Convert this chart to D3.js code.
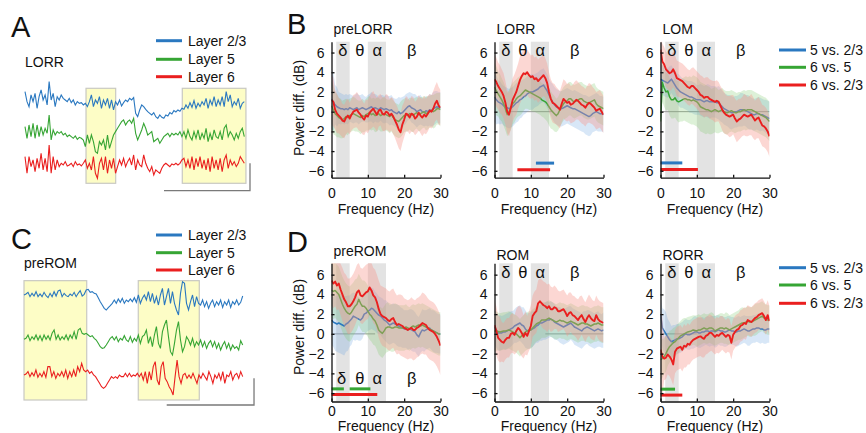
<!DOCTYPE html>
<html><head><meta charset="utf-8">
<script src="https://cdn.jsdelivr.net/npm/d3@7"></script>
<style>body{margin:0;background:#fff}svg{display:block}text{font-family:"Liberation Sans",Arial,sans-serif;fill:#111}</style>
</head><body><svg id="c" width="866" height="433"></svg>
<script>
// ---------------- DATA ----------------
const layers = ["Layer 2/3","Layer 5","Layer 6"];
const comparisons = ["5 vs. 2/3","6 vs. 5","6 vs. 2/3"];
const bandNames = ["δ","θ","α","β"];
const bandCenters = [3.1, 7.8, 12.6, 22.1];
const greyBands = [[1.3,5],[10,15]];
const freqTicks = [0,10,20,30];
const dbTicks = [-6,-4,-2,0,2,4,6];

// LFP traces (panel A: LORR), arbitrary units, uniform sampling over 4 s
const A_L23 = [25,-5,-20,15,-5,20,-25,10,30,0,15,-15,55,0,20,-20,10,0,15,5,0,-5,5,-8,0,-15,-5,-10,-8,-15,-10,-20,-5,15,-20,0,-10,10,-25,0,-15,5,-25,0,-30,-5,-15,0,-18,-8,0,-5,5,0,7,-40,-50,-30,-15,-20,-28,-35,-40,-45,-38,-50,-55,-45,-52,-55,-45,-48,-38,-42,-32,-36,-30,-34,-25,-28,-15,-25,-8,-22,-2,-25,-10,-20,-5,-15,5,-25,0,-15,10,-20,0,-15,10,-20,25,-5,15,-20,-5,-15,5,-25,-10,-5];
const A_L5 = [20,-15,25,-10,30,-15,25,-10,20,-5,15,0,55,-20,10,-5,5,0,5,-5,0,-10,-5,-10,-15,-8,-18,-12,-15,-20,-40,-5,-30,-5,-25,-55,-60,-25,-35,-20,-50,-5,-45,-25,-5,5,15,25,35,40,25,35,40,30,45,0,-20,-5,10,30,15,-5,0,5,-25,-20,-15,-30,-20,-10,-5,0,-10,0,-5,0,-5,5,-10,5,-15,10,-10,-20,5,-15,10,-20,0,-15,15,-25,0,-20,10,-10,-15,5,-20,15,25,-10,5,-5,-20,0,-15,5,15,-10];
const A_L6 = [20,-30,20,-10,10,-25,15,-15,30,-20,15,-25,55,-30,20,-20,10,-10,0,-5,5,-8,-5,0,-10,5,-5,-2,-8,0,10,-15,0,-20,20,-30,-45,0,15,-20,20,-30,10,-15,15,-30,-10,10,-5,15,-10,5,15,-5,25,-20,10,-5,-10,25,0,-15,-25,-10,-35,-20,-25,-30,-15,-5,0,-5,-10,-2,-5,0,-5,0,10,15,-10,10,-15,20,-20,15,-10,20,-15,10,-20,15,-25,20,-15,10,-20,15,-25,10,25,-15,10,-5,5,-10,0,20,10,0];
const A_windows = [[1.113,1.654],[2.869,4.03]];
// panel C: preROM
const C_L23 = [0,3,8,-5,5,-3,10,-5,3,-5,8,-2,-8,5,-5,10,-3,12,15,-5,5,-2,-5,3,-2,8,-5,5,13,-3,2,15,17,8,10,5,3,-8,-20,-30,-40,-45,-38,-32,-25,-15,-25,-12,-22,-10,-25,-15,-20,-12,-20,-8,-22,0,-25,-10,0,-15,10,-20,5,-25,-5,-30,0,20,-30,-5,20,-25,10,-25,-45,-60,5,40,35,-25,-45,-20,0,-35,-5,-25,-30,-15,-35,-20,-40,-25,-15,-35,-20,-30,-15,-37,-20,-30,-15,-37,-20,-28,-15,-30,-22,-3];
const C_L5 = [-3,0,10,-7,5,-3,10,-5,8,-7,10,-3,8,-5,15,25,-3,10,-5,5,-3,10,-5,10,0,20,-3,25,30,15,12,15,10,5,8,0,-5,-15,-25,-30,-28,-20,-10,0,5,-5,5,-10,0,-5,8,-5,-10,5,-12,0,-8,10,-15,5,10,25,-15,5,-25,10,35,-15,-30,20,40,55,5,-40,-50,-15,25,50,-5,-40,-25,5,-5,-20,0,-25,-10,-20,-5,-25,-10,-30,-15,-7,-25,-10,-30,-15,-35,-20,-10,-30,-15,-35,-20,-30,-25,-35,-7,-20];
const C_L6 = [0,3,10,-5,7,-3,15,-7,5,-5,10,-7,25,25,-5,10,-10,5,-3,10,-5,15,-10,10,-5,15,-5,25,10,35,15,10,15,5,10,0,-5,-15,-25,-35,-40,-35,-25,-15,-5,-10,-5,-10,0,-5,-5,5,-5,5,-5,0,-3,5,-5,5,-15,10,-25,10,-15,25,40,-15,-30,25,40,-10,-20,-35,-45,-60,-5,45,-5,-25,0,5,-10,0,-10,5,-10,-25,0,-10,5,-5,-15,10,-5,-25,0,-10,5,-15,10,-25,0,-5,10,-15,0,5,-10,10,-5];
const C_windows = [[0.0,1.147],[2.09,3.206]];

// Power difference spectra (dB), 0–30 Hz every 0.5 Hz; CI half-widths every 1 Hz
const preLORR_5v23 = [1.3,1.0,0.7,0.5,0.4,0.3,0.3,0.2,0.3,0.2,0.4,0.3,0.2,0.3,0.4,0.2,0.3,0.4,0.3,0.2,0.3,0.4,0.5,0.3,0.4,0.3,0.2,0.4,0.3,0.2,0.3,0.2,0.1,0.2,0.0,-0.1,-0.2,0.0,-0.2,-0.1,0.1,0.3,0.5,0.6,0.4,0.3,0.2,0.0,0.1,0.2,0.0,-0.1,0.1,0.0,0.2,0.1,0.3,0.4,0.5,0.4,0.4];
const preLORR_6v5 = [0.6,0.2,-0.2,-0.4,-0.6,-0.7,-0.8,-0.7,-0.5,-0.6,-0.4,-0.3,-0.2,-0.3,-0.4,-0.5,-0.6,-0.4,-0.5,-0.3,-0.2,-0.1,-0.3,-0.2,-0.4,-0.3,-0.2,-0.4,-0.3,-0.2,-0.3,-0.4,-0.5,-0.3,-0.6,-0.8,-0.9,-1.0,-0.8,-0.6,-0.4,-0.3,-0.4,-0.2,-0.3,-0.4,-0.2,-0.1,-0.3,-0.2,-0.1,0.0,-0.2,-0.1,0.0,0.1,0.0,0.1,0.3,0.3,0.2];
const preLORR_6v23 = [1.2,1.0,0.2,-0.2,-0.4,-0.6,-0.9,-1.0,-0.6,-0.4,-0.7,-0.3,0.0,0.1,0.2,-0.1,-0.3,-0.6,-0.8,-0.4,-0.5,-0.1,0.1,0.3,0.0,-0.3,0.1,0.2,-0.2,-0.3,0.0,-0.1,-0.4,-0.2,-0.5,-0.9,-1.3,-1.8,-2.1,-1.3,-0.8,-0.2,-0.3,-0.6,-0.2,-0.3,-0.7,-0.5,-0.1,-0.4,-0.6,-0.3,-0.5,-0.2,0.1,0.0,0.3,0.8,1.1,0.6,0.4];
const preLORR_5v23_ci = [3.0,2.0,1.6,1.5,1.5,1.4,1.4,1.5,1.4,1.3,1.4,1.5,1.4,1.3,1.4,1.4,1.5,1.4,1.5,1.6,1.5,1.4,1.5,1.6,1.5,1.4,1.5,1.6,1.7,1.6,1.6];
const preLORR_6v5_ci = [2.5,2.2,2.0,1.9,1.8,1.7,1.7,1.6,1.7,1.6,1.7,1.6,1.7,1.6,1.7,1.6,1.7,1.7,1.7,1.8,1.7,1.6,1.7,1.6,1.7,1.6,1.7,1.6,1.7,1.6,1.7];
const preLORR_6v23_ci = [2.5,2.0,1.8,1.7,1.7,1.6,1.7,1.8,1.7,1.6,1.7,1.8,1.7,1.6,1.7,1.8,1.7,1.8,1.9,1.9,1.8,1.7,1.8,1.7,1.8,1.9,1.8,1.7,1.8,1.9,1.8];

const LORR_5v23 = [1.5,1.2,1.0,0.9,0.8,0.6,0.5,0.4,0.3,0.4,0.5,0.7,0.9,1.0,1.2,1.3,1.5,1.6,1.8,1.9,2.0,2.0,2.1,2.2,2.3,2.5,2.6,2.7,2.4,2.1,1.7,1.3,1.0,0.7,0.5,0.4,0.3,0.3,0.4,0.5,0.6,0.5,0.4,0.3,0.3,0.2,0.1,0.0,-0.1,-0.2,-0.3,-0.4,-0.5,-0.4,-0.2,-0.1,0.0,-0.1,-0.2,-0.2,-0.3];
const LORR_6v5 = [2.5,2.1,1.8,1.5,1.2,0.8,0.3,-0.3,0.0,0.4,0.8,1.0,1.3,1.5,1.6,1.8,2.0,2.2,2.1,2.0,1.9,1.8,1.7,1.6,1.5,1.4,1.2,1.1,1.0,0.8,0.5,0.2,0.0,-0.2,-0.4,-0.2,0.2,0.5,0.8,1.0,1.1,1.3,1.3,1.1,1.0,1.1,1.2,1.3,1.3,1.1,1.0,0.9,0.9,1.0,1.1,1.2,0.8,0.6,0.5,0.4,0.3];
const LORR_6v23 = [3.3,3.0,2.6,2.3,2.0,1.6,0.9,0.0,-0.3,0.4,1.2,1.6,2.0,2.6,3.2,3.6,3.9,3.8,4.0,3.7,3.5,3.6,3.3,3.4,3.1,3.3,3.5,3.7,3.4,2.9,2.0,1.3,0.9,0.8,0.6,0.4,0.2,0.8,1.3,1.1,0.9,1.0,0.7,0.8,1.0,1.2,1.1,0.9,0.7,0.6,0.4,0.7,0.9,0.8,0.6,0.4,0.1,0.2,0.3,0.0,-0.3];
const LORR_5v23_ci = [2.5,2.2,2.0,2.0,2.0,2.0,2.0,1.9,1.8,1.8,1.8,1.7,1.7,1.7,1.7,1.7,1.8,1.8,1.8,1.8,1.8,1.8,1.9,1.9,1.9,2.0,2.0,1.9,1.9,1.8,1.8];
const LORR_6v5_ci = [2.5,2.3,2.2,2.2,2.2,2.1,2.0,2.0,1.9,1.8,1.8,1.7,1.7,1.7,1.8,1.9,1.8,1.7,1.7,1.7,1.7,1.7,1.7,1.7,1.7,1.7,1.7,1.7,1.7,1.7,1.7];
const LORR_6v23_ci = [2.5,2.4,2.3,2.2,2.2,2.2,2.3,2.4,2.4,2.3,2.2,2.2,2.2,2.1,2.0,2.0,2.0,1.9,1.9,2.0,1.9,1.9,2.0,1.9,1.9,1.9,2.0,1.9,1.9,1.9,1.9];

const LOM_5v23 = [3.3,3.2,3.1,3.0,2.9,3.1,3.3,3.0,2.7,2.4,2.2,2.0,1.9,1.8,1.7,1.6,1.5,1.5,1.4,1.3,1.2,1.2,1.2,1.1,1.0,1.1,1.1,1.0,1.0,1.0,1.0,0.9,0.9,0.7,0.5,0.3,0.2,0.1,0.0,-0.1,-0.1,0.0,0.0,0.1,0.2,0.2,0.2,0.1,0.0,-0.1,-0.2,-0.3,-0.3,-0.2,-0.2,-0.3,-0.3,-0.4,-0.5,-0.6,-0.7];
const LOM_6v5 = [-1.0,3.0,2.4,2.0,2.1,1.5,1.2,1.2,1.4,1.1,1.0,1.1,1.2,1.3,1.3,1.2,1.2,1.1,1.2,1.1,1.0,0.8,0.5,0.4,0.3,0.2,0.2,0.1,0.0,0.1,0.2,0.1,0.0,0.1,0.2,0.0,-0.1,-0.1,0.0,0.1,0.0,-0.1,-0.1,0.0,0.0,0.1,0.2,0.1,0.2,0.2,0.2,0.1,0.0,-0.1,-0.2,-0.3,-0.4,-0.5,-0.6,-0.8,-1.0];
const LOM_6v23 = [6.3,5.1,4.8,4.3,4.1,3.9,4.0,4.3,3.9,3.4,3.3,3.2,3.1,2.9,2.7,2.5,2.4,2.6,2.6,2.4,2.2,2.0,1.7,1.6,1.4,1.5,1.5,1.3,1.2,1.1,1.0,1.1,1.0,0.6,0.2,-0.1,-0.3,-0.4,-0.5,-0.4,-0.3,-0.7,-1.0,-0.8,-0.7,-0.5,-0.3,-0.4,-0.5,-0.4,-0.3,-0.6,-0.9,-0.7,-0.6,-1.0,-1.4,-1.5,-1.7,-2.0,-2.5];
const LOM_5v23_ci = [1.5,1.5,1.5,1.4,1.5,1.6,1.5,1.5,1.6,1.6,1.5,1.6,1.6,1.7,1.6,1.6,1.7,1.6,1.6,1.7,1.6,1.6,1.7,1.6,1.7,1.6,1.6,1.7,1.6,1.7,1.7];
const LOM_6v5_ci = [2.0,1.9,1.9,1.9,2.0,2.1,2.2,2.3,2.4,2.5,2.5,2.5,2.5,2.4,2.3,2.3,2.2,2.2,2.2,2.1,2.1,2.0,2.0,2.0,2.0,2.0,2.0,2.0,2.0,2.0,2.0];
const LOM_6v23_ci = [1.8,1.8,1.8,1.8,1.8,1.8,1.8,1.8,1.8,1.9,1.9,2.0,2.0,2.0,2.0,2.1,2.0,2.1,2.0,2.1,2.0,2.1,2.0,2.1,2.0,2.1,2.0,2.1,2.1,2.1,2.1];

const preROM_5v23 = [1.4,1.2,1.1,1.0,1.1,1.0,0.9,0.8,1.0,1.1,1.3,1.5,1.8,1.7,1.6,1.5,1.4,1.6,2.0,2.1,2.3,2.4,2.6,2.5,2.3,2.1,1.9,1.8,1.6,1.4,1.3,1.1,0.9,1.0,1.1,1.0,0.9,0.8,0.7,0.6,0.5,0.5,0.4,0.5,0.4,0.3,0.2,-0.1,-0.3,0.1,0.4,0.3,0.4,0.5,0.6,0.4,0.3,0.2,0.1,0.0,0.0];
const preROM_6v5 = [4.4,4.3,4.4,4.2,4.0,3.5,3.0,2.6,2.3,2.1,2.0,2.2,2.5,2.8,3.0,3.5,3.1,2.8,2.8,2.6,2.3,2.0,1.8,1.5,1.3,0.9,0.4,0.2,0.05,0.3,0.6,0.7,0.7,0.6,0.6,0.7,0.7,0.6,0.6,0.6,0.6,0.7,0.6,0.5,0.7,0.8,0.7,0.8,0.9,0.8,0.9,0.8,0.7,0.6,0.5,0.4,0.3,0.2,0.1,0.0,0.0];
const preROM_6v23 = [5.4,5.1,5.3,4.9,5.1,4.5,4.0,3.5,3.2,2.8,2.8,3.0,3.3,3.7,4.2,4.4,3.9,3.8,4.0,4.2,4.3,4.7,4.4,3.9,3.7,3.2,2.5,2.0,1.8,1.7,1.6,1.4,1.3,1.5,1.6,1.2,0.9,1.0,0.9,0.8,0.6,0.5,0.4,0.5,0.6,0.4,0.4,0.6,0.7,0.9,1.1,1.0,0.9,0.6,0.4,0.3,0.2,0.0,-0.3,-0.7,-1.2];
const preROM_5v23_ci = [2.5,2.8,3.0,3.0,2.8,2.6,2.4,2.2,2.1,2.0,2.0,2.1,2.0,1.9,2.0,2.1,2.0,2.0,2.1,2.0,1.9,2.0,2.1,2.0,2.0,2.1,2.0,2.0,2.1,2.0,2.0];
const preROM_6v5_ci = [2.8,2.8,2.8,2.8,2.8,2.8,2.7,2.6,2.6,2.6,2.6,2.6,2.5,2.5,2.5,2.5,2.4,2.4,2.3,2.3,2.3,2.2,2.2,2.2,2.2,2.2,2.2,2.2,2.2,2.2,2.2];
const preROM_6v23_ci = [2.5,2.5,2.6,2.7,2.8,2.8,2.8,2.8,2.8,2.8,2.8,2.8,2.8,2.9,3.0,3.0,3.0,3.0,3.0,3.1,3.0,3.0,3.1,3.0,3.0,3.1,3.0,3.0,3.0,3.0,3.0];

const ROM_5v23 = [0.7,0.4,0.1,0.1,0.1,0.2,0.2,0.3,0.4,0.5,0.6,0.8,0.9,1.0,1.1,0.9,0.8,0.5,0.3,0.3,0.4,0.5,0.6,0.8,0.9,1.1,1.1,1.2,1.3,1.4,1.4,1.5,1.4,1.2,1.1,1.0,0.9,0.8,0.7,0.8,0.9,1.0,1.1,0.9,0.7,0.6,0.5,0.4,0.3,0.5,0.6,0.7,0.6,0.5,0.4,0.3,0.4,0.5,0.4,0.3,0.4];
const ROM_6v5 = [0.3,0.3,0.25,0.2,0.25,0.3,0.3,0.35,0.4,0.3,0.2,0.1,0.0,-0.2,-0.4,-0.2,0.0,0.2,0.3,0.4,0.4,0.6,0.8,1.0,1.1,1.2,1.4,1.4,1.4,1.5,1.6,1.5,1.4,1.3,1.2,1.3,1.4,1.3,1.3,1.2,1.1,1.2,1.3,1.2,1.1,1.0,0.9,1.0,1.1,1.1,1.0,1.0,0.9,0.8,0.9,1.0,1.0,1.1,1.0,0.9,0.9];
const ROM_6v23 = [0.9,0.3,-0.4,-0.6,-0.8,-0.9,-0.6,-0.4,-0.4,0.0,0.1,-0.1,0.3,0.6,0.4,0.1,-0.3,0.1,-0.2,0.3,0.8,1.8,2.1,2.3,3.1,3.3,3.1,2.9,2.8,2.6,2.8,2.5,2.5,2.7,2.6,2.3,2.3,2.4,2.5,2.2,1.8,2.1,2.2,1.9,1.8,1.6,1.4,1.7,1.9,1.5,1.2,1.6,1.9,1.6,1.4,1.3,1.9,1.5,1.3,1.2,1.1];
const ROM_5v23_ci = [1.8,1.8,1.7,1.8,1.8,1.7,1.8,1.8,1.9,1.8,1.8,1.7,1.8,1.8,1.9,1.8,1.8,1.7,1.8,1.8,1.8,1.7,1.8,1.8,1.8,1.7,1.8,1.8,1.8,1.7,1.8];
const ROM_6v5_ci = [2.0,1.9,1.9,1.9,1.9,1.9,1.9,1.9,1.9,1.9,1.9,1.8,1.8,1.8,1.8,1.8,1.8,1.8,1.8,1.8,1.8,1.8,1.8,1.8,1.8,1.8,1.8,1.8,1.8,1.8,1.8];
const ROM_6v23_ci = [2.5,2.3,2.0,2.0,2.0,2.0,2.2,2.4,2.2,2.0,2.1,2.2,2.3,2.4,2.4,2.3,2.2,2.1,2.0,2.0,2.1,2.0,2.0,2.1,2.0,2.0,2.1,2.0,2.0,2.0,2.0];

const RORR_5v23 = [2.0,0.6,0.3,0.0,-0.3,-0.6,-0.8,-0.7,-0.6,-0.5,-0.5,-0.4,-0.3,-0.1,0.0,-0.1,-0.1,0.0,0.1,0.2,0.2,0.1,0.1,0.2,0.2,0.3,0.3,0.2,0.3,0.3,0.2,0.3,0.4,0.3,0.3,0.2,0.2,0.3,0.4,0.3,0.3,0.2,0.2,0.3,0.3,0.4,0.5,0.4,0.3,0.3,0.4,0.5,0.5,0.6,0.6,0.5,0.5,0.4,0.4,0.5,0.5];
const RORR_6v5 = [-2.6,-2.5,-2.3,-2.0,-1.6,-1.3,-1.1,-0.9,-0.8,-0.6,-0.4,-0.2,-0.1,0.0,0.1,0.2,0.25,0.3,0.4,0.35,0.3,0.4,0.4,0.5,0.6,0.5,0.5,0.6,0.6,0.5,0.3,0.4,0.5,0.6,0.6,0.5,0.6,0.5,0.4,0.5,0.6,0.7,0.8,0.9,1.0,1.1,1.1,1.2,1.3,1.2,1.2,1.3,1.4,1.5,1.6,1.7,1.8,1.6,1.5,1.4,1.4];
const RORR_6v23 = [-1.6,-2.3,-2.5,-2.4,-2.1,-2.3,-2.6,-3.1,-1.8,-1.5,-1.4,-1.3,-1.6,-1.2,-1.3,-1.0,-1.1,-0.8,-0.6,-0.5,-0.4,-0.3,-0.25,-0.4,-0.5,-0.2,-0.1,0.1,0.1,-0.1,-0.3,-0.1,-0.2,0.0,0.1,-0.1,-0.3,-0.1,-0.2,-0.9,-0.1,0.2,0.4,0.5,0.8,0.9,1.1,1.0,1.4,1.3,1.2,1.4,1.6,1.7,1.9,2.0,2.1,1.8,1.4,1.9,1.3];
const RORR_5v23_ci = [2.0,2.2,1.8,1.6,1.5,1.5,1.5,1.5,1.5,1.6,1.5,1.5,1.4,1.5,1.5,1.6,1.5,1.5,1.5,1.4,1.4,1.5,1.4,1.4,1.5,1.4,1.4,1.5,1.4,1.4,1.4];
const RORR_6v5_ci = [2.0,1.8,1.6,1.5,1.5,1.5,1.6,1.5,1.5,1.5,1.6,1.5,1.5,1.5,1.6,1.5,1.5,1.5,1.6,1.5,1.5,1.5,1.6,1.5,1.5,1.5,1.6,1.5,1.5,1.5,1.5];
const RORR_6v23_ci = [4.0,2.2,2.0,2.1,2.2,2.2,2.2,2.1,2.0,2.0,2.0,2.0,1.9,1.9,1.8,1.8,1.8,1.7,1.7,1.7,1.6,1.6,1.6,1.6,1.5,1.5,1.5,1.5,1.5,1.5,1.5];

// significance bars (Hz ranges)
const LORR_sig = {b:[[11.4,16.4]], r:[[6.3,15.3]]};
const LOM_sig = {b:[[0,6]], r:[[0,10.3]]};
const preROM_sig = {g:[[0,3.4],[5.0,10.7]], r:[[0,12.6]]};
const RORR_sig = {g:[[0,4]], r:[[0,6]]};
// grey zero reference segments (Hz ranges)
const zeroSegs = {preLORR:[], LORR:[[3,16]], LOM:[[0,30]], preROM:[[0,12]], ROM:[[14,30]], RORR:[[0.5,10]]};

// ---------------- DRAW ----------------
const svg = d3.select("#c");
const COL = {b:"#2a78c0", g:"#36a534", r:"#ea1f1f"};
const BAND = {b:"rgba(100,160,225,0.25)", g:"rgba(120,200,100,0.25)", r:"rgba(248,150,140,0.38)"};
const FREQ = d3.range(61).map(i=>i*0.5);

// ---- trace panels ----
function tracePanel(o){
  const g = svg.append("g");
  const x = d3.scaleLinear().domain([0,4]).range(o.xr);
  const y = d3.scaleLinear().domain([0,300]).range(o.yr);
  o.windows.forEach(w=>{
    g.append("rect").attr("x",x(w[0])).attr("width",x(w[1])-x(w[0]))
     .attr("y",y(o.boxTop)).attr("height",y(0)-y(o.boxTop))
     .attr("fill","#fdfdc6").attr("stroke","#c9c9c2").attr("stroke-width",1.2);
  });
  const keys=["b","g","r"];
  o.traces.forEach((tr,k)=>{
    const n=tr.length;
    const line=d3.line().x((d,i)=>x(i/(n-1)*4)).y(d=>y(o.offsets[k]+d));
    g.append("path").attr("d",line(tr)).attr("fill","none").attr("stroke",COL[keys[k]]).attr("stroke-width",1.1);
  });
  const sb=o.scalebar;
  g.append("path").attr("d",`M${x(sb.t0)},${y(sb.v0)}H${x(sb.t1)}V${y(sb.v1)}`)
   .attr("fill","none").attr("stroke","#7a7a7a").attr("stroke-width",1.3);
  layers.forEach((L,k)=>{
    g.append("line").attr("x1",o.leg.x).attr("x2",o.leg.x+26).attr("y1",o.leg.ys[k]).attr("y2",o.leg.ys[k])
     .attr("stroke",COL[keys[k]]).attr("stroke-width",3);
    g.append("text").attr("x",o.leg.x+32).attr("y",o.leg.ys[k]+5).attr("font-size",14).text(L);
  });
  g.append("text").attr("x",o.letter[0]).attr("y",o.letter[1]).attr("font-size",29).text(o.letterText);
  g.append("text").attr("x",o.title[0]).attr("y",o.title[1]).attr("font-size",14).text(o.titleText);
}
tracePanel({xr:[25,244.3], yr:[183.3,83.3], offsets:[250,150,60], windows:A_windows, boxTop:285,
  traces:[A_L23,A_L5,A_L6], scalebar:{t0:2.535,t1:4.104,v0:-22,v1:60},
  leg:{x:156,ys:[40.7,59.3,76.7]}, letter:[11,37], letterText:"A", title:[25,66.5], titleText:"LORR"});
tracePanel({xr:[24,242.7], yr:[400,300], offsets:[315,185,75], windows:C_windows, boxTop:358,
  traces:[C_L23,C_L5,C_L6], scalebar:{t0:2.61,t1:4.207,v0:-15,v1:65},
  leg:{x:156,ys:[235,252.7,270]}, letter:[11,248.5], letterText:"C", title:[24,268], titleText:"preROM"});

// ---- spectral panels ----
const rows = [
  {dom:[-6.7,7.1], rng:[177.7,41.7], tickPad:10, xlab:213.5, title:33.5, ylabC:108, greek:5.6},
  {dom:[-6.85,7.15], rng:[401.5,263.3], tickPad:5, xlab:431, title:259.5, ylabC:327, greek:5.65}
];
const cols = [331.5, 494.5, 660.5];
const W = 109;
const panels = [
  {name:"preLORR", row:0,col:0, s:[preLORR_5v23,preLORR_6v5,preLORR_6v23], ci:[preLORR_5v23_ci,preLORR_6v5_ci,preLORR_6v23_ci], sig:null},
  {name:"LORR", row:0,col:1, s:[LORR_5v23,LORR_6v5,LORR_6v23], ci:[LORR_5v23_ci,LORR_6v5_ci,LORR_6v23_ci], sig:LORR_sig, lv:{b:-5.22,r:-5.9}},
  {name:"LOM", row:0,col:2, s:[LOM_5v23,LOM_6v5,LOM_6v23], ci:[LOM_5v23_ci,LOM_6v5_ci,LOM_6v23_ci], sig:LOM_sig, lv:{b:-5.2,r:-5.87}},
  {name:"preROM", row:1,col:0, s:[preROM_5v23,preROM_6v5,preROM_6v23], ci:[preROM_5v23_ci,preROM_6v5_ci,preROM_6v23_ci], sig:preROM_sig, lv:{g:-5.57,r:-6.15}, greekLow:true, titleY:255.5},
  {name:"ROM", row:1,col:1, s:[ROM_5v23,ROM_6v5,ROM_6v23], ci:[ROM_5v23_ci,ROM_6v5_ci,ROM_6v23_ci], sig:null},
  {name:"RORR", row:1,col:2, s:[RORR_5v23,RORR_6v5,RORR_6v23], ci:[RORR_5v23_ci,RORR_6v5_ci,RORR_6v23_ci], sig:RORR_sig, lv:{g:-5.6,r:-6.2}}
];
const keys=["b","g","r"];
panels.forEach((p,pi)=>{
  const R=rows[p.row];
  const x=d3.scaleLinear().domain([0,30]).range([cols[p.col], cols[p.col]+W]);
  const y=d3.scaleLinear().domain(R.dom).range(R.rng);
  const g=svg.append("g");
  const cid="clip"+pi;
  g.append("clipPath").attr("id",cid).append("rect").attr("x",x(0)).attr("y",y(R.dom[1])).attr("width",W).attr("height",y(R.dom[0])-y(R.dom[1]));
  greyBands.forEach(b=>{
    g.append("rect").attr("x",x(b[0])).attr("width",x(b[1])-x(b[0])).attr("y",y(R.dom[1])).attr("height",y(R.dom[0])-y(R.dom[1])).attr("fill","#e3e3e3");
  });
  const pg=g.append("g").attr("clip-path",`url(#${cid})`);
  zeroSegs[p.name].forEach(s=>{
    pg.append("line").attr("x1",x(s[0])).attr("x2",x(s[1])).attr("y1",y(0)).attr("y2",y(0)).attr("stroke","#9a9a9a").attr("stroke-width",1);
  });
  const area=(ser,ci)=>d3.area().x((d,i)=>x(FREQ[i])).y0((d,i)=>y(d-ci[Math.floor(i/2)])).y1((d,i)=>y(d+ci[Math.floor(i/2)]))(ser);
  const line=d3.line().x((d,i)=>x(FREQ[i])).y(d=>y(d));
  // blue & green bands, then their lines, then red band and red line
  [0,1].forEach(k=>pg.append("path").attr("d",area(p.s[k],p.ci[k])).attr("fill",BAND[keys[k]]));
  [0,1].forEach(k=>pg.append("path").attr("d",line(p.s[k])).attr("fill","none").attr("stroke",COL[keys[k]]).attr("stroke-width",1.5).attr("stroke-linejoin","round"));
  pg.append("path").attr("d",area(p.s[2],p.ci[2])).attr("fill",BAND.r);
  pg.append("path").attr("d",line(p.s[2])).attr("fill","none").attr("stroke",COL.r).attr("stroke-width",1.9).attr("stroke-linejoin","round");
  if(p.sig){
    Object.keys(p.sig).forEach(k=>{
      p.sig[k].forEach(r=>{
        g.append("line").attr("x1",x(r[0])).attr("x2",x(r[1])).attr("y1",y(p.lv[k])).attr("y2",y(p.lv[k]))
         .attr("stroke",COL[k]).attr("stroke-width",3);
      });
    });
  }
  const ya=d3.axisLeft(y).tickValues(dbTicks).tickSize(-3).tickSizeOuter(0).tickPadding(7);
  const yg=g.append("g").attr("transform",`translate(${x(0)},0)`).call(ya);
  const xa=d3.axisBottom(x).tickValues(freqTicks).tickSize(-3).tickSizeOuter(0).tickPadding(R.tickPad);
  const xg=g.append("g").attr("transform",`translate(0,${y(R.dom[0])})`).call(xa);
  [yg,xg].forEach(a=>{
    a.selectAll("path,line").attr("stroke","#111").attr("stroke-width",1.3);
    a.selectAll("text").attr("font-size",14).attr("font-family","Liberation Sans, Arial, sans-serif").attr("fill","#111");
  });
  const gy = p.greekLow ? -5.05 : R.greek;
  bandNames.forEach((b,i)=>{
    let fx=bandCenters[i]; if(p.greekLow && i===0) fx=2.8;
    g.append("text").attr("x",x(fx)).attr("y",y(gy)).attr("text-anchor","middle")
     .attr("font-family","Liberation Serif, DejaVu Serif, serif").attr("font-size",16.5).text(b);
  });
  g.append("text").attr("x",x(0)+2).attr("y",p.titleY||R.title).attr("font-size",14).text(p.name);
  g.append("text").attr("x",x(15)).attr("y",R.xlab).attr("text-anchor","middle").attr("font-size",14).text("Frequency (Hz)");
  if(p.col===0){
    g.append("text").attr("transform",`translate(304,${R.ylabC}) rotate(-90)`).attr("text-anchor","middle").attr("font-size",14).text("Power diff. (dB)");
  }
  if(p.col===2){
    const ys = p.row===0 ? [50,67.3,85] : [267.7,285,303.3];
    comparisons.forEach((c,k)=>{
      g.append("line").attr("x1",779).attr("x2",806).attr("y1",ys[k]).attr("y2",ys[k]).attr("stroke",COL[keys[k]]).attr("stroke-width",3);
      g.append("text").attr("x",810).attr("y",ys[k]+5).attr("font-size",14).text(c);
    });
  }
});
svg.append("text").attr("x",287).attr("y",33.5).attr("font-size",29).text("B");
svg.append("text").attr("x",287).attr("y",252).attr("font-size",29).text("D");
</script></body></html>
